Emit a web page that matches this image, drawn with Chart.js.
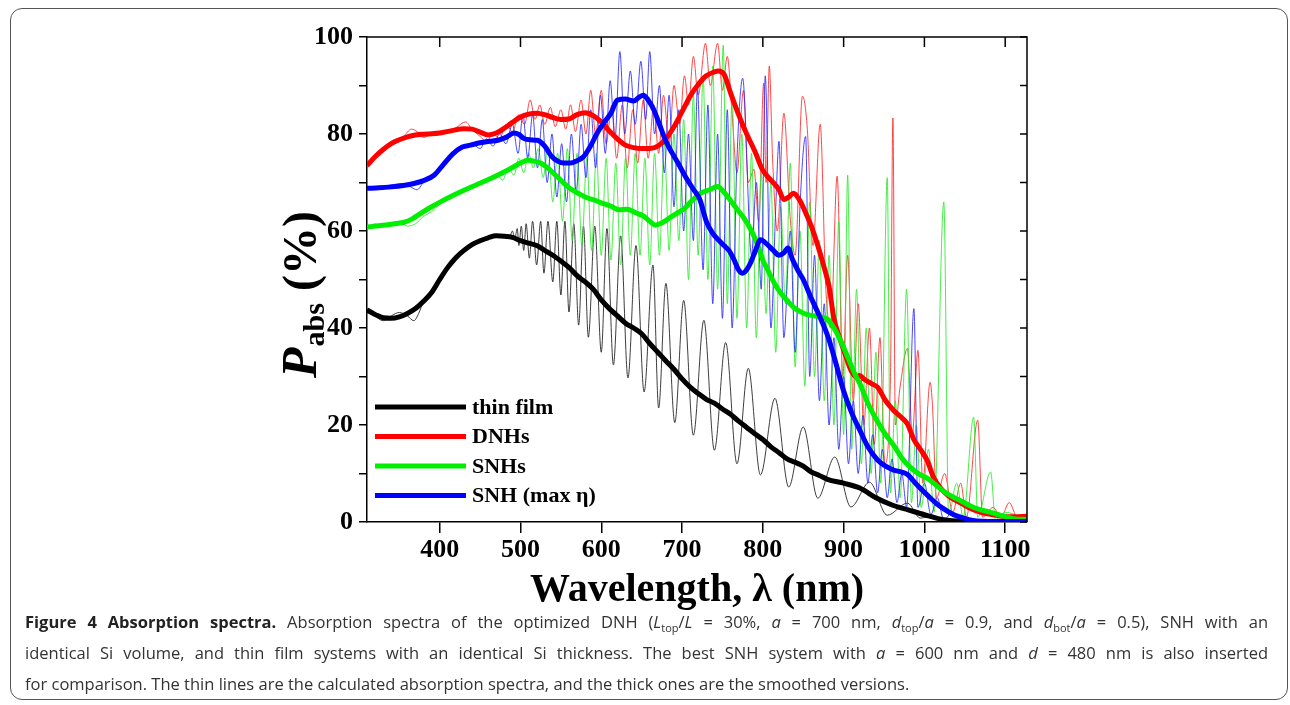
<!DOCTYPE html>
<html>
<head>
<meta charset="utf-8">
<script src="https://cdn.jsdelivr.net/npm/chart.js@4.4.0/dist/chart.umd.min.js"></script>
<style>
    body { margin: 0; background: #fff; width: 1290px; height: 705px; overflow: hidden; position: relative; }
    #frame { position: absolute; left: 10px; top: 8px; width: 1276px; height: 690px; border: 1.5px solid #555; border-radius: 12px; }
    #chart-wrap { position: absolute; left: 0; top: 0; }
    #caption { position: absolute; left: 25px; top: 606px; width: 1243px; font-family: "Open Sans", sans-serif; font-size: 16.5px; line-height: 31px; color: #333; }
    #caption div { white-space: nowrap; }
    #caption .full { text-align: justify; text-align-last: justify; white-space: normal; }
    #caption b { color: #222; }
    #caption sub { font-size: 11px; line-height: 0; }
</style>
</head>
<body>
<div id="frame"></div>
<div id="chart-wrap"><canvas id="absChart" width="1290" height="610"></canvas></div>
<div id="caption">
<div class="full"><b>Figure 4 Absorption spectra.</b> Absorption spectra of the optimized DNH (<i>L</i><sub>top</sub>/<i>L</i> = 30%, <i>a</i> = 700 nm, <i>d</i><sub>top</sub>/<i>a</i> = 0.9, and <i>d</i><sub>bot</sub>/<i>a</i> = 0.5), SNH with an</div>
<div class="full">identical Si volume, and thin film systems with an identical Si thickness. The best SNH system with <i>a</i> = 600 nm and <i>d</i> = 480 nm is also inserted</div>
<div>for comparison. The thin lines are the calculated absorption spectra, and the thick ones are the smoothed versions.</div>
</div>
<script>
// Data (wavelength in nm, absorption in %)
let xTicks = [400, 500, 600, 700, 800, 900, 1000, 1100];
let yTicks = [0, 10, 20, 30, 40, 50, 60, 70, 80, 90, 100];
let seriesNames = ["thin film", "DNHs", "SNHs", "SNH (max η)"];

// thin film - calculated
let filmThinNm = [310, 320, 330, 340, 350, 360, 368, 374, 380, 390, 400, 410, 420, 430, 440, 450, 460, 470, 480, 486, 490, 493, 496, 498, 501, 504, 507, 511, 515, 520, 525, 529, 534, 540, 545, 550, 555, 560, 566, 572, 578, 584, 592, 600, 607, 615, 624, 633, 643, 653, 664, 671, 680, 691, 702, 714, 727, 740, 754, 768, 782, 797, 815, 832, 850, 868, 889, 909, 932, 954, 979, 995, 1010, 1025, 1045, 1060, 1127];
let filmThinPct = [44, 42.5, 41.5, 42.5, 43.2, 42.5, 41.5, 43, 45.5, 47.3, 50, 52.5, 54.5, 56, 57.2, 58, 58.6, 59, 59.3, 58.5, 60, 58.5, 60.5, 57, 61, 56, 61.5, 54.4, 62, 53, 62, 51.3, 62, 49.5, 62, 46.8, 62, 43.3, 61.5, 40.6, 61, 38.1, 61, 35, 60.5, 32.4, 59, 29.7, 57, 26.8, 53, 23.5, 49.2, 20.5, 45.7, 17.9, 41.6, 14.8, 37, 12, 31.7, 9.7, 25.5, 7.2, 19.6, 4.9, 13.4, 3.1, 8.2, 1.4, 3.9, 0.8, 1.3, 0.3, 0.6, 0.1, 0.1];
// thin film - smoothed
let filmThickNm = [310, 320, 330, 340, 350, 360, 370, 380, 390, 400, 410, 420, 430, 440, 450, 460, 470, 480, 490, 500, 510, 520, 530, 540, 550, 560, 570, 580, 590, 600, 610, 620, 630, 640, 650, 660, 670, 680, 690, 700, 710, 720, 730, 740, 750, 760, 770, 780, 790, 800, 810, 820, 830, 840, 850, 860, 870, 880, 900, 920, 940, 960, 980, 1000, 1020, 1040, 1060, 1127];
let filmThickPct = [43.7, 42.8, 42.1, 42, 42.3, 43, 44, 45.5, 47.3, 50, 52.5, 54.5, 56, 57.2, 58, 58.6, 59, 58.9, 58.7, 58, 57.5, 57, 56, 55, 53.8, 52.5, 50.8, 49.5, 48, 45.8, 44, 42.5, 41, 40, 38.8, 36.8, 35, 33.2, 31.5, 29.5, 27.8, 26.5, 25.3, 24.5, 23.3, 22.2, 20.8, 19.5, 18.2, 17, 15.5, 14.3, 13, 12.3, 11.5, 10.3, 9.6, 8.8, 8, 7, 5, 3.5, 2.5, 1.5, 0.6, 0.2, 0.1, 0.1];

// DNHs - calculated
let dnhThinNm = [310, 325, 340, 355, 365, 372, 380, 390, 400, 410, 420, 432, 440, 450, 458, 466, 474, 482, 490, 498, 505, 512, 518, 524, 530, 537, 543, 550, 556, 562, 568, 575, 581, 587, 593, 600, 606, 613, 619, 626, 632, 639, 645, 652, 658, 665, 671, 677, 684, 690, 697, 703, 708, 714, 720, 729, 735, 744, 750, 756, 762, 768, 776, 782, 789, 795, 801, 804, 808, 812, 818, 826, 834, 840, 849, 855, 862, 871, 878, 884, 892, 899, 905, 912, 918, 925, 932, 938, 945, 951, 958, 961, 964, 970, 979, 985, 992, 998, 1007, 1010, 1015, 1025, 1035, 1045, 1052, 1066, 1072, 1085, 1095, 1105, 1115, 1127];
let dnhThinPct = [73, 76, 78.5, 79.5, 81, 80.5, 79.3, 80, 80.5, 80.5, 81.3, 82.5, 81, 79.5, 78.5, 80, 79, 82, 80.5, 84, 82, 87, 83, 86, 82, 85.5, 81.5, 85, 81, 86, 80.5, 87, 80, 89, 80, 89, 78, 86, 75, 86, 73, 85, 74, 87, 75, 86, 76, 88, 78, 90, 82, 92, 86, 96, 88, 98.7, 90, 98.7, 89, 96, 84, 72, 89, 70, 72.7, 62, 90.5, 70, 94, 75, 60, 84.3, 62.4, 55, 87.8, 81.2, 57, 82, 48, 40, 71.3, 30, 55, 25, 45, 20, 40, 16, 38, 12, 30, 83.3, 20, 28, 35.8, 18, 35.4, 8, 28.8, 24, 5, 10, 2, 8, 1, 21, 1, 3, 1, 4, 1, 1.2];
// DNHs - smoothed
let dnhThickNm = [310, 320, 330, 340, 350, 360, 370, 385, 400, 415, 430, 440, 450, 460, 470, 480, 490, 500, 510, 520, 530, 540, 550, 560, 570, 580, 590, 600, 610, 620, 630, 640, 650, 660, 670, 680, 690, 700, 710, 720, 730, 740, 745, 752, 760, 770, 780, 790, 800, 810, 820, 826, 832, 838, 845, 851, 860, 868, 875, 882, 888, 895, 902, 909, 915, 920, 925, 935, 942, 952, 962, 972, 979, 987, 995, 1004, 1011, 1020, 1029, 1037, 1045, 1057, 1070, 1085, 1100, 1110, 1127];
let dnhThickPct = [73.5, 75.3, 76.8, 78, 78.8, 79.4, 79.8, 80, 80.2, 80.7, 81.1, 81, 80.4, 79.8, 80.2, 81.2, 82.4, 83.5, 84.1, 84.3, 84, 83.4, 83, 83.1, 84, 84.4, 83.8, 82.5, 80.6, 79, 77.7, 77.2, 77, 77, 77.5, 79, 81.5, 84.6, 87.8, 90.2, 92, 92.8, 93, 92.3, 88.5, 84, 80, 76.5, 72.5, 70.5, 68.5, 66.5, 67, 67.8, 66.5, 64.5, 61, 57, 53, 48.5, 42, 38, 34.5, 31.3, 30, 30.2, 29.5, 28.5, 27.8, 25, 23, 21.5, 20.2, 17, 15, 12.5, 9.3, 7, 5.5, 4.6, 3.9, 2.8, 2, 1.5, 1.1, 1.1, 1.2];

// SNHs - calculated
let snhThinNm = [310, 320, 330, 340, 350, 360, 370, 380, 390, 400, 410, 420, 430, 440, 450, 460, 470, 478, 485, 492, 498, 504, 510, 516, 522, 528, 534, 540, 546, 552, 558, 564, 570, 576, 582, 588, 594, 600, 606, 612, 618, 624, 630, 636, 642, 648, 654, 660, 666, 672, 678, 684, 690, 696, 702, 708, 714, 720, 726, 732, 738, 744, 751, 756, 762, 768, 774, 780, 786, 792, 798, 804, 810, 816, 822, 828, 834, 840, 846, 852, 858, 864, 870, 876, 882, 888, 894, 900, 905, 910, 916, 922, 928, 934, 940, 946, 954, 958, 964, 970, 978, 984, 990, 996, 1005, 1012, 1024, 1030, 1040, 1048, 1061, 1066, 1082, 1088, 1100, 1127];
let snhThinPct = [60.5, 61.5, 61, 61.5, 62, 61, 61.5, 63, 64, 65.5, 66.5, 67.5, 68, 69, 70, 70.5, 71.5, 70.5, 73, 71.5, 75, 72, 76, 73, 77, 71, 77, 66, 76, 62, 77, 58, 76, 57, 75, 56, 76, 55, 75, 54, 74, 53, 75, 55, 76, 55, 75, 53, 76, 55, 78, 56, 80, 58, 83, 50, 88, 55, 92, 50, 94, 48, 98.3, 45, 88, 42, 80, 40, 76, 38, 72, 43, 70, 35, 65, 45, 74, 32, 60, 28, 66, 30, 58, 25, 55, 20, 62, 18, 71.5, 15, 48, 12, 40, 10, 35, 8, 71, 6, 25, 5, 48, 4, 20, 3, 15, 2, 66, 1.5, 8, 1, 21.6, 1, 10.3, 0.5, 2, 0.5];
// SNHs - smoothed
let snhThickNm = [310, 325, 340, 356, 366, 377, 390, 401, 415, 430, 445, 459, 474, 488, 500, 509, 517, 525, 535, 546, 558, 571, 583, 591, 600, 612, 622, 632, 642, 652, 660, 667, 674, 682, 692, 702, 712, 723, 734, 744, 752, 760, 768, 776, 786, 794, 800, 806, 815, 823, 831, 840, 851, 860, 870, 880, 888, 896, 905, 914, 921, 930, 942, 952, 962, 972, 983, 994, 1004, 1015, 1024, 1035, 1045, 1057, 1070, 1080, 1090, 1100, 1110, 1127];
let snhThickPct = [60.8, 61.1, 61.4, 61.8, 62.5, 63.7, 65, 66, 67.2, 68.4, 69.5, 70.5, 71.7, 72.9, 74, 74.6, 74.4, 74, 72.8, 71.1, 69.2, 67.8, 66.8, 66.4, 65.8, 65.1, 64.4, 64.5, 63.8, 63.1, 62, 61.2, 61.6, 62.4, 63.5, 64.5, 66.2, 67.8, 68.5, 69.2, 68, 66.3, 64.5, 62.8, 60, 57, 54, 52, 49, 47, 45.5, 44, 43, 42.6, 42.3, 41.8, 40, 37.5, 34, 30.5, 28.2, 24.5, 20.7, 18, 15.8, 13.2, 11.2, 9.8, 9, 7.5, 6.3, 5.2, 4.4, 3.3, 2.5, 2.1, 1.6, 1.1, 0.7, 0.5];

// SNH (max eta) - calculated
let maxThinNm = [310, 325, 340, 355, 365, 372, 380, 390, 400, 410, 420, 430, 440, 450, 458, 466, 474, 482, 490, 497, 503, 509, 515, 521, 527, 533, 539, 545, 551, 557, 563, 569, 575, 581, 587, 593, 599, 605, 611, 617, 623, 629, 636, 642, 649, 655, 660, 666, 672, 678, 684, 690, 696, 702, 708, 714, 719, 726, 732, 738, 744, 750, 756, 762, 768, 775, 786, 792, 798, 803, 810, 816, 820, 826, 834, 840, 846, 853, 858, 864, 870, 876, 882, 888, 894, 900, 906, 912, 918, 924, 930, 936, 942, 948, 954, 960, 966, 972, 978, 987, 992, 1000, 1008, 1016, 1024, 1035, 1045, 1060, 1127];
let maxThinPct = [69, 69, 69.5, 69.8, 69, 68.5, 70, 71, 72.5, 75, 77, 77.5, 78, 77, 79, 77.5, 80, 78, 82, 76, 84, 75, 84, 73, 83, 70, 80, 67, 78, 66, 80, 68, 82, 71, 85, 73, 88, 76, 91, 79, 97, 80, 93, 82, 95, 83, 97, 80, 90, 72, 88, 65, 85, 60, 80, 58, 89.6, 52, 86, 45, 80, 42, 85, 40, 75, 91.5, 55, 70, 48, 92, 40, 65, 78.5, 38, 60, 35, 65, 79.5, 30, 55, 25, 45, 20, 38, 15, 30, 12, 25, 10, 22, 8, 18, 6, 15, 5, 13, 4, 10, 3, 44, 3, 8, 1.5, 5, 0.5, 2, 0.3, 0, 0];
// SNH (max eta) - smoothed
let maxThickNm = [310, 325, 340, 355, 368, 380, 393, 405, 417, 428, 438, 450, 462, 472, 482, 492, 498, 504, 512, 521, 530, 538, 546, 554, 562, 570, 578, 586, 595, 604, 612, 620, 630, 640, 647, 652, 658, 665, 672, 680, 688, 695, 705, 714, 722, 730, 738, 746, 752, 758, 764, 770, 775, 780, 785, 791, 797, 805, 813, 820, 826, 831, 837, 843, 850, 859, 870, 880, 890, 900, 910, 921, 930, 942, 952, 962, 972, 979, 990, 1004, 1015, 1024, 1035, 1045, 1055, 1065, 1080, 1127];
let maxThickPct = [68.8, 68.9, 69.1, 69.4, 69.8, 70.4, 71.5, 73.8, 76, 77.3, 77.7, 78.2, 78.5, 78.7, 79.3, 80.2, 79.9, 79.1, 78.8, 78.7, 77.5, 75.5, 74.4, 74, 74, 74.5, 75.3, 77.3, 80.2, 82.5, 84.3, 87, 87.2, 86.8, 87.6, 88, 87, 85, 82, 78.5, 76, 74, 71, 68.6, 66.5, 62, 59.5, 58, 57, 56, 54.2, 52, 51.3, 52, 53.5, 56, 58.2, 57.3, 56, 55, 55.5, 56.5, 54, 52, 50, 46.5, 42.5, 38.5, 33, 27, 22.5, 18.6, 15.5, 12.8, 11.5, 10.7, 10.3, 9.8, 7.8, 5.5, 3.8, 2.7, 1.6, 1, 0.5, 0.2, 0.1, 0.1];


let serif = "'Liberation Serif', 'Times New Roman', serif";
let colors = ["#000000", "#ff0000", "#00ee00", "#0000ff"];
let thinColors = ["rgba(40,40,40,0.9)", "rgba(255,40,40,0.85)", "rgba(40,235,40,0.85)", "rgba(40,40,255,0.85)"];

function pts(xs, ys) {
    return xs.map((x, i) => ({ x: x, y: ys[i] }));
}

function line(label, xs, ys, color, width, order) {
    return {
        label: label,
        data: pts(xs, ys),
        borderColor: color,
        borderWidth: width,
        pointRadius: 0,
        cubicInterpolationMode: "monotone",
        fill: false,
        order: order
    };
}

// frame, inner ticks, legend and axis titles
let figureExtras = {
    id: "figureExtras",
    afterDraw(chart) {
        let c = chart.ctx;
        let a = chart.chartArea;
        let xs = chart.scales.x;
        let ys = chart.scales.y;
        c.save();
        c.strokeStyle = "#000";
        c.lineWidth = 1.5;
        c.beginPath();
        c.moveTo(a.left, a.top);
        c.lineTo(a.right, a.top);
        c.lineTo(a.right, a.bottom);
        c.stroke();
        // top ticks, pointing in
        xTicks.forEach(v => {
            let px = xs.getPixelForValue(v);
            c.beginPath();
            c.moveTo(px, a.top);
            c.lineTo(px, a.top + 10);
            c.stroke();
        });
        // right ticks, pointing in
        yTicks.forEach(v => {
            let py = ys.getPixelForValue(v);
            c.beginPath();
            c.moveTo(a.right, py);
            c.lineTo(a.right - 7, py);
            c.stroke();
        });

        // legend
        c.textBaseline = "middle";
        c.textAlign = "left";
        c.font = "bold 22px " + serif;
        seriesNames.forEach((name, i) => {
            let y = 407 + i * 29.5;
            c.strokeStyle = colors[i];
            c.lineWidth = 5;
            c.beginPath();
            c.moveTo(375, y);
            c.lineTo(466, y);
            c.stroke();
            c.fillStyle = "#000";
            c.fillText(name, 472, y + 1);
        });

        // x title
        c.textAlign = "center";
        c.textBaseline = "alphabetic";
        c.font = "bold 40px " + serif;
        c.fillText("Wavelength, λ (nm)", (a.left + a.right) / 2, 601);

        // y title
        c.translate(316, 378);
        c.rotate(-Math.PI / 2);
        c.textAlign = "left";
        c.font = "italic bold 50px " + serif;
        c.fillText("P", 0, 0);
        let w = c.measureText("P").width;
        c.font = "bold 30px " + serif;
        c.fillText("abs", w + 1, 8);
        w += c.measureText("abs").width + 1;
        c.font = "bold 48px " + serif;
        c.fillText(" (%)", w, 0);
        c.restore();
    }
};

let ctx = document.querySelector("#absChart");

new Chart(ctx, {
    type: "line",
    data: {
        datasets: [
            line("thin film calc", filmThinNm, filmThinPct, thinColors[0], 1, 7),
            line("DNHs calc", dnhThinNm, dnhThinPct, thinColors[1], 1, 6),
            line("SNHs calc", snhThinNm, snhThinPct, thinColors[2], 1, 5),
            line("SNH max calc", maxThinNm, maxThinPct, thinColors[3], 1, 4),
            line(seriesNames[0], filmThickNm, filmThickPct, colors[0], 5, 3),
            line(seriesNames[1], dnhThickNm, dnhThickPct, colors[1], 5, 2),
            line(seriesNames[2], snhThickNm, snhThickPct, colors[2], 5, 1),
            line(seriesNames[3], maxThickNm, maxThickPct, colors[3], 5, 0)
        ]
    },
    options: {
        responsive: false,
        animation: false,
        devicePixelRatio: 1,
        layout: {
            padding: { left: 0, right: 263, top: 37, bottom: 0 }
        },
        plugins: {
            legend: { display: false },
            tooltip: { enabled: false }
        },
        scales: {
            x: {
                type: "linear",
                min: 310,
                max: 1127,
                afterBuildTicks: s => { s.ticks = xTicks.map(v => ({ value: v })); },
                afterFit: s => { s.height = 88; },
                ticks: {
                    color: "#000",
                    font: { family: serif, size: 26, weight: "bold" },
                    padding: 2,
                    maxRotation: 0,
                    callback: v => String(v)
                },
                grid: {
                    drawOnChartArea: false,
                    drawTicks: true,
                    tickLength: 11,
                    color: "#000",
                    lineWidth: 1.5
                },
                border: { display: true, color: "#000", width: 1.5 }
            },
            y: {
                min: 0,
                max: 100,
                afterBuildTicks: s => { s.ticks = yTicks.map(v => ({ value: v })); },
                afterFit: s => { s.width = 367; },
                ticks: {
                    color: "#000",
                    font: { family: serif, size: 26, weight: "bold" },
                    padding: 6,
                    callback: v => (v % 20 === 0 ? String(v) : "")
                },
                grid: {
                    drawOnChartArea: false,
                    drawTicks: true,
                    tickLength: 8,
                    color: "#000",
                    lineWidth: 1.5
                },
                border: { display: true, color: "#000", width: 1.5 }
            }
        }
    },
    plugins: [figureExtras]
});
</script>
</body>
</html>
